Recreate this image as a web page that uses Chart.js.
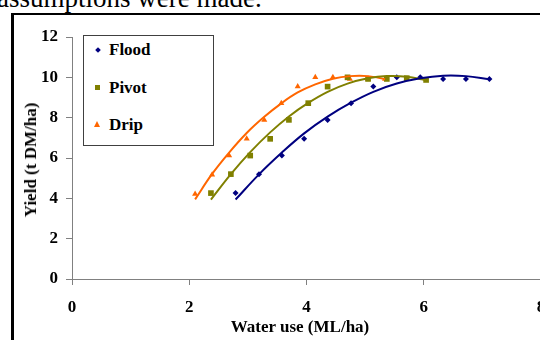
<!DOCTYPE html>
<html>
<head>
<meta charset="utf-8">
<script src="https://cdn.jsdelivr.net/npm/chart.js@4/dist/chart.umd.min.js"></script>
<style>
  body { margin: 0; background: #fff; }
  #wrap { position: relative; width: 540px; height: 340px; overflow: hidden; font-family: "Liberation Serif", "Times New Roman", serif; }
  #head { position: absolute; left: -3px; top: -15px; font-size: 27px; line-height: 27px; white-space: nowrap; color: #000; }
  #frame { position: absolute; left: 11px; top: 13px; width: 600px; height: 400px; border-left: 3px solid #000; border-top: 2px solid #000; }
  #chart { position: absolute; left: 0; top: 0; }
  .legend { position: absolute; left: 83px; top: 35px; width: 129px; height: 109px; border: 1px solid #404040; background: #fff; }
  .item { position: absolute; left: 0; height: 20px; font-size: 17px; font-weight: bold; line-height: 20px; }
  .item span { position: absolute; left: 25px; top: 0; }
  .mk { position: absolute; }
  .ytitle { position: absolute; left: 31px; top: 160px; transform: translate(-50%, -50%) rotate(-90deg); font-size: 17px; font-weight: bold; white-space: nowrap; }
  .xtitle { position: absolute; left: 300px; top: 327px; transform: translate(-50%, -50%); font-size: 17px; font-weight: bold; white-space: nowrap; }
</style>
</head>
<body>
<div id="wrap">
  <div id="head">assumptions were made.</div>
  <div id="frame"></div>
  <canvas id="chart" width="580" height="340"></canvas>
  <div class="ytitle">Yield (t DM/ha)</div>
  <div class="xtitle">Water use (ML/ha)</div>
  <div class="legend">
    <div class="item" style="top:4px"><div class="mk" style="left:12px;top:8px;width:4px;height:4px;background:#000080;transform:rotate(45deg)"></div><span>Flood</span></div>
    <div class="item" style="top:42px"><div class="mk" style="left:11px;top:7px;width:5px;height:5px;background:#808000"></div><span>Pivot</span></div>
    <div class="item" style="top:79px"><div class="mk" style="left:10px;top:6px;width:0;height:0;border-left:3.5px solid transparent;border-right:3.5px solid transparent;border-bottom:6px solid #FF6600"></div><span>Drip</span></div>
  </div>
</div>
<script>
// values
const floodX = [2.79, 3.19, 3.58, 3.96, 4.36, 4.76, 5.14, 5.54, 5.94, 6.33, 6.72, 7.12];
const floodY = [4.26, 5.20, 6.12, 6.95, 7.89, 8.72, 9.54, 10.0, 10.0, 9.92, 9.92, 9.92];
const floodTrend = [3.94, 5.19, 6.27, 7.22, 8.05, 8.74, 9.28, 9.69, 9.95, 10.08, 10.06, 9.91];

const pivotX = [2.37, 2.71, 3.04, 3.38, 3.70, 4.03, 4.36, 4.70, 5.05, 5.37, 5.71, 6.04];
const pivotY = [4.26, 5.20, 6.12, 6.95, 7.89, 8.72, 9.54, 10.0, 9.92, 9.92, 9.96, 9.87];
const pivotTrend = [3.94, 5.20, 6.29, 7.27, 8.06, 8.73, 9.28, 9.69, 9.95, 10.06, 10.03, 9.86];

const dripX = [2.10, 2.39, 2.68, 2.98, 3.28, 3.57, 3.85, 4.15, 4.45, 4.74, 5.05, 5.34];
const dripY = [4.21, 5.17, 6.12, 6.95, 7.89, 8.72, 9.54, 10.0, 10.0, 9.92, 9.92, 9.92];
const dripTrend = [3.95, 5.21, 6.27, 7.24, 8.04, 8.71, 9.25, 9.65, 9.93, 10.06, 10.06, 9.91];

const xTicks = [0, 2, 4, 6, 8];
const yTicks = [0, 2, 4, 6, 8, 10, 12];

const pts = (xs, ys) => xs.map((x, i) => ({ x: x, y: ys[i] }));

function trend(xs, ys, color) {
    return { data: pts(xs, ys), showLine: true, borderColor: color, borderWidth: 2,
             pointRadius: 0, tension: 0.4, fill: false, order: 0 };
}
function marks(xs, ys, color, style, r) {
    return { data: pts(xs, ys), showLine: false, pointStyle: style, pointRadius: r,
             backgroundColor: color, borderColor: color, borderWidth: 0, order: 1 };
}

const tickFont = { family: "Liberation Serif", weight: "bold", size: 17 };

new Chart(document.getElementById("chart"), {
    type: "scatter",
    data: {
        datasets: [
            trend(floodX, floodTrend, "#000080"),
            trend(pivotX, pivotTrend, "#808000"),
            trend(dripX, dripTrend, "#FF6600"),
            marks(floodX, floodY, "#000080", "rectRot", 3),
            marks(pivotX, pivotY, "#808000", "rect", 4),
            marks(dripX, dripY, "#FF6600", "triangle", 3.5)
        ]
    },
    options: {
        responsive: false,
        animation: false,
        layout: { padding: { left: 0, top: 37, right: 39, bottom: 0 } },
        plugins: { legend: { display: false }, tooltip: { enabled: false } },
        scales: {
            x: {
                type: "linear", min: 0, max: 8,
                afterBuildTicks: (s) => { s.ticks = xTicks.map((v) => ({ value: v })); },
                afterFit: (s) => { s.height = 61; },
                ticks: { color: "#000", font: tickFont, padding: 12, maxRotation: 0 },
                grid: { drawOnChartArea: false, drawTicks: true, tickLength: 6, color: "#808080" },
                border: { color: "#808080" }
            },
            y: {
                type: "linear", min: 0, max: 12,
                afterBuildTicks: (s) => { s.ticks = yTicks.map((v) => ({ value: v })); },
                afterFit: (s) => { s.width = 72; },
                ticks: { color: "#000", font: tickFont, padding: 8 },
                grid: { drawOnChartArea: false, drawTicks: true, tickLength: 6, color: "#808080" },
                border: { color: "#808080" }
            }
        }
    }
});
</script>
</body>
</html>
